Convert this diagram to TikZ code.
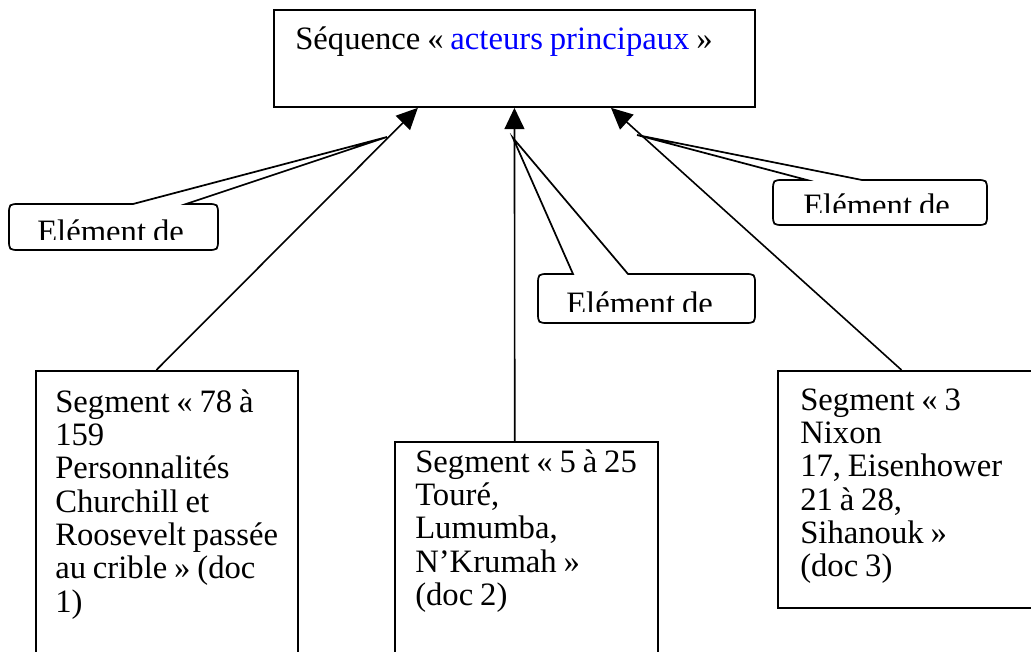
\documentclass[tikz,border=0pt]{standalone}
\usepackage{fontspec}
\setmainfont{Liberation Serif}
\usetikzlibrary{arrows.meta,calc}
\definecolor{wordblue}{RGB}{0,0,255}
\newcommand\diagtextfont{\fontsize{24.5}{25}\selectfont}
\newcommand\diagspacing{\spaceskip 0.21em\relax\xspaceskip 0.21em\relax}
\begin{document}
\begin{tikzpicture}[x=0.75pt,y=-0.75pt,
  box/.style={draw,line width=1.4pt,rectangle,inner sep=0pt,anchor=north west},
  txt/.style={inner sep=0pt,anchor=base west,align=left,text width=200pt,
    font=\diagtextfont,execute at begin node=\diagspacing},
  conn/.style={line width=1.2pt,-{Triangle[length=16pt,width=15pt]}},
  callout/.style={draw,line width=1.3pt,fill=white,line join=miter}]
\clip (0,0) rectangle (1031,652);
\fill[white] (0,0) rectangle (1031,652);

% boxes
\node[box,minimum width=360.75pt,minimum height=72.75pt] (top) at (273,9) {};
\node[box,minimum width=196.5pt,minimum height=221.25pt] (seg1) at (35,370) {};
\node[box,minimum width=197.25pt,minimum height=168pt] (seg2) at (394,441) {};
\node[box,minimum width=197.25pt,minimum height=177.75pt] (seg3) at (777,370) {};

% texts
\node[txt,text width=340pt] (ttop) at (295,50) {S\'equence « \textcolor{wordblue}{acteurs principaux} »};
\node[txt] (t1) at (55,412) {Segment « 78 à\\159\\Personnalités\\Churchill et\\Roosevelt passée\\au crible » (doc\\1)};
\node[txt] (t2) at (415,472) {Segment « 5 à 25\\Touré,\\Lumumba,\\N’Krumah »\\(doc 2)};
\node[txt] (t3) at (800,410) {Segment « 3\\Nixon\\17, Eisenhower\\21 à 28,\\Sihanouk »\\(doc 3)};

% connectors
\draw[conn] ($(seg1.north west)!0.46!(seg1.north east)$) -- ($(top.south west)!0.3!(top.south east)$);
\draw[conn] ($(seg2.north west)!0.456!(seg2.north east)$) -- ($(top.south west)!0.5!(top.south east)$);
\draw[conn] ($(seg3.north west)!0.47!(seg3.north east)$) -- ($(top.south west)!0.7!(top.south east)$);

% callout 1 (left)
\path[callout] (186,204) -- (207,204) .. controls (218,204) .. (218,215) -- (218,239) .. controls (218,250) .. (207,250) -- (20,250) .. controls (9,250) .. (9,239) -- (9,215) .. controls (9,204) .. (20,204) -- (133,204) -- (387,137) -- cycle;
\begin{scope}
\clip (9,204) rectangle (218,240);
\node[txt] (c1) at (37,243) {Elément de};
\end{scope}

% callout 2 (middle)
\path[callout] (573,274) -- (513,138) -- (628,274) -- (744,274) .. controls (755,274) .. (755,285) -- (755,312) .. controls (755,323) .. (744,323) -- (549,323) .. controls (538,323) .. (538,312) -- (538,285) .. controls (538,274) .. (549,274) -- cycle;
\begin{scope}
\clip (538,274) rectangle (755,311);
\node[txt] (c2) at (566,314) {Elément de};
\end{scope}

% callout 3 (right)
\path[callout] (807,180) -- (637,135) -- (862,180) -- (976,180) .. controls (987,180) .. (987,191) -- (987,214) .. controls (987,225) .. (976,225) -- (784,225) .. controls (773,225) .. (773,214) -- (773,191) .. controls (773,180) .. (784,180) -- cycle;
\begin{scope}
\clip (773,180) rectangle (987,213);
\node[txt] (c3) at (803,217) {Elément de};
\end{scope}
\end{tikzpicture}
\end{document}
